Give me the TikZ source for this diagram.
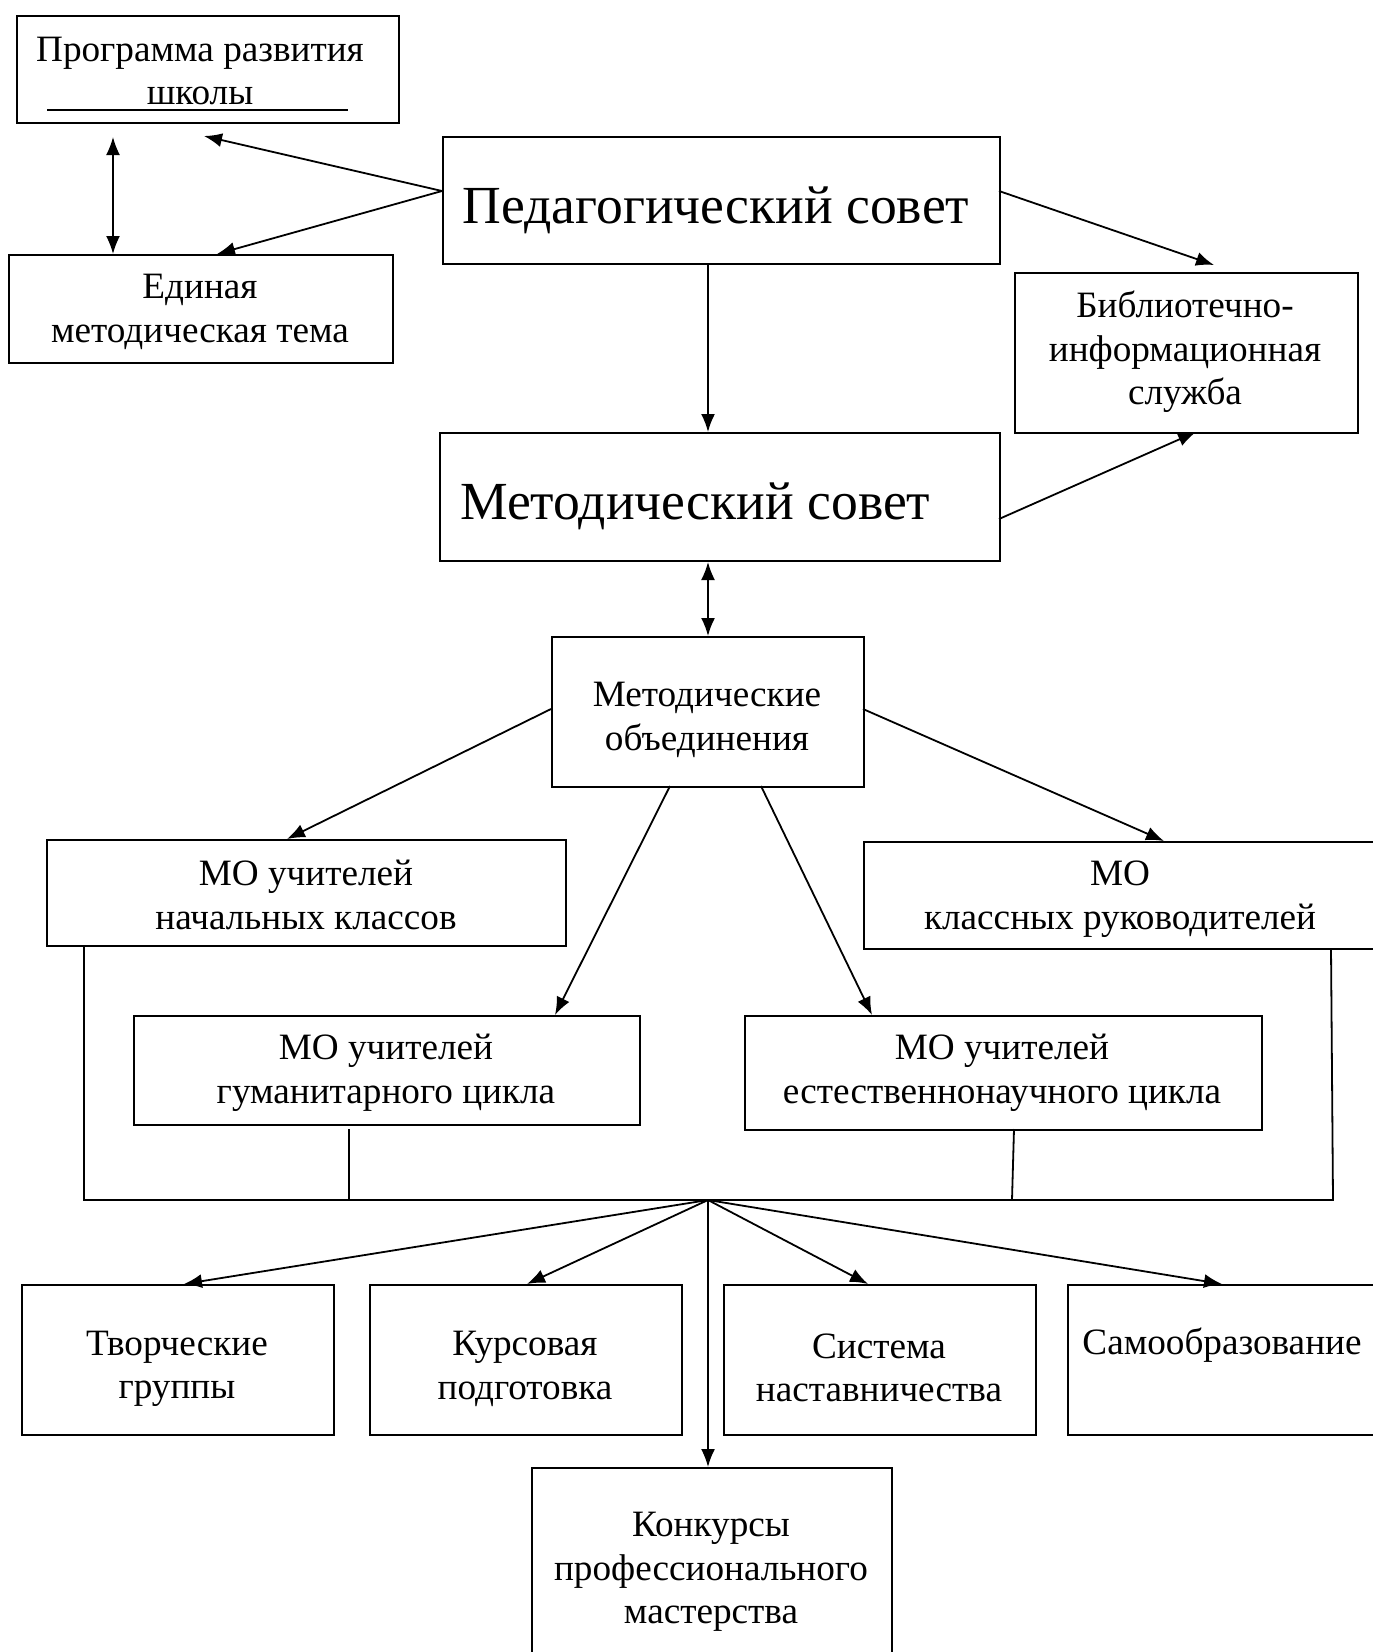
\documentclass[tikz,border=0pt]{standalone}
\usepackage{fontspec}
\setmainfont{Liberation Serif}
\usetikzlibrary{arrows.meta}
\begin{document}
\begin{tikzpicture}[x=1pt,y=-1pt,
  box/.style={draw, line width=2pt, inner sep=0pt, anchor=north west},
  txt/.style={align=center, font=\fontsize{37.2}{43.5}\selectfont, inner sep=0pt},
  bigtxt/.style={font=\fontsize{53.6}{60}\selectfont, inner sep=0pt},
  arr/.style={-{Latex[length=18pt,width=14pt]}, line width=1.8pt},
  darr/.style={{Latex[length=18pt,width=14pt]}-{Latex[length=18pt,width=14pt]}, line width=1.8pt},
  wire/.style={line width=1.8pt}]
\useasboundingbox[fill=white] (0,0) rectangle (1373,1652);
\clip (0,0) rectangle (1373,1652);
% boxes
\node[box, minimum width=382pt, minimum height=107pt] (prog) at (16,15) {};
\node[box, minimum width=384pt, minimum height=108pt] (edin) at (8,254) {};
\node[box, minimum width=557pt, minimum height=127pt] (ped) at (442,136) {};
\node[box, minimum width=343pt, minimum height=160pt] (bib) at (1014,272) {};
\node[box, minimum width=560pt, minimum height=128pt] (met) at (439,432) {};
\node[box, minimum width=312pt, minimum height=150pt] (mo) at (551,636) {};
\node[box, minimum width=519pt, minimum height=106pt] (nach) at (46,839) {};
\node[box, minimum width=540pt, minimum height=107pt] (klas) at (863,841) {};
\node[box, minimum width=506pt, minimum height=109pt] (hum) at (133,1015) {};
\node[box, minimum width=517pt, minimum height=114pt] (est) at (744,1015) {};
\node[box, minimum width=312pt, minimum height=150pt] (tvor) at (21,1284) {};
\node[box, minimum width=312pt, minimum height=150pt] (kurs) at (369,1284) {};
\node[box, minimum width=312pt, minimum height=150pt] (sist) at (723,1284) {};
\node[box, minimum width=340pt, minimum height=150pt] (samo) at (1067,1284) {};
\node[box, minimum width=360pt, minimum height=240pt] (konk) at (531,1467) {};
% texts
\node[txt] (tprog) at (200,71) {Программа развития\\школы};
\draw[line width=1.5pt] (47,110) -- (348,110);
\node[txt] (tedin) at (200,312) {Единая\\методическая тема};
\node[bigtxt] (tped) at (716,210) {Педагогический совет};
\node[txt] (tbib) at (1185,352) {Библиотечно-\\информационная\\служба};
\node[bigtxt, anchor=west] (tmet) at (460,506) {Методический совет};
\node[txt] (tmo) at (707,720) {Методические\\объединения};
\node[txt] (tnach) at (306,895) {МО учителей\\начальных классов};
\node[txt] (tklas) at (1120,899) {МО\\классных руководителей};
\node[txt] (thum) at (386,1073) {МО учителей\\гуманитарного цикла};
\node[txt] (test) at (1002,1073) {МО учителей\\естественнонаучного цикла};
\node[txt] (ttvor) at (177,1369) {Творческие\\группы};
\node[txt] (tkurs) at (525,1369) {Курсовая\\подготовка};
\node[txt] (tsist) at (879,1368) {Система\\наставничества};
\node[txt] (tsamo) at (1222,1345) {Самообразование};
\node[txt] (tkonk) at (711,1572) {Конкурсы\\профессионального\\мастерства};
% coordinates
\coordinate (pedL) at (442,191);
\coordinate (progB) at (204,136);
\coordinate (edinT) at (217,254);
\coordinate (dTop) at (113,137);
\coordinate (dBot) at (113,254);
\coordinate (pedR) at (999,191);
\coordinate (bibT) at (1214,265);
\coordinate (metR) at (999,519);
\coordinate (bibB) at (1196,432);
\coordinate (moL) at (551,709);
\coordinate (moR) at (863,709);
\coordinate (moB1) at (670,786);
\coordinate (moB2) at (761,786);
\coordinate (hub) at (708,1200);
% connectors
\draw[arr] (pedL) -- (progB);
\draw[arr] (pedL) -- (edinT);
\draw[darr] (dTop) -- (dBot);
\draw[arr] (pedR) -- (bibT);
\draw[arr] (ped.south -| 708,0) -- (met.north -| 708,0);
\draw[arr] (metR) -- (bibB);
\draw[darr] (met.south -| 708,0) -- (mo.north -| 708,0);
\draw[arr] (moL) -- (287,839);
\draw[arr] (moB1) -- (555,1015);
\draw[arr] (moB2) -- (872,1015);
\draw[arr] (moR) -- (1164,841);
% bus
\draw[wire] (nach.south -| 84,0) -- (84,1200) -- (1333,1200) -- (1331,948);
\draw[wire] (349,1129) -- (349,1200);
\draw[wire] (1014,1129) -- (1012,1200);
% distribution
\draw[arr] (hub) -- (184,1284);
\draw[arr] (hub) -- (527,1284);
\draw[arr] (hub) -- (868,1284);
\draw[arr] (hub) -- (1222,1284);
\draw[arr] (hub) -- (konk.north -| 708,0);
\end{tikzpicture}
\end{document}
